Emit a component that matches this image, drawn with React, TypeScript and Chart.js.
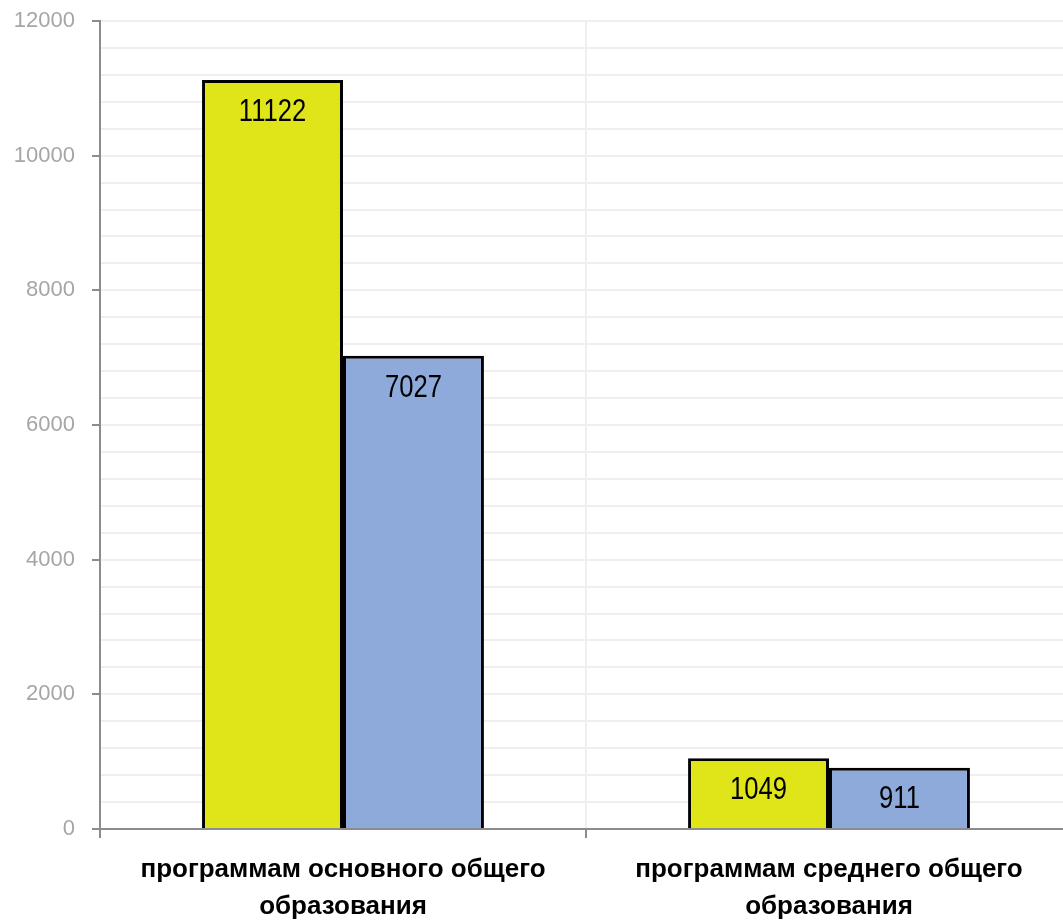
import React, { useEffect, useRef } from "react";
import { Chart, registerables } from "chart.js";

Chart.register(...registerables);

const categories: string[][] = [
  ["программам основного общего", "образования"],
  ["программам среднего общего", "образования"],
];
const seriesA: number[] = [11122, 1049];
const seriesB: number[] = [7027, 911];
const yMax = 12000;
const yMajorStep = 2000;
const yMinorStep = 400;

const SANS = '"Liberation Sans", Arial, sans-serif';

const valueLabels = {
  id: "valueLabels",
  afterDatasetsDraw(chart: any) {
    const ctx = chart.ctx;
    chart.data.datasets.forEach((ds: any, i: number) => {
      const meta = chart.getDatasetMeta(i);
      meta.data.forEach((el: any, j: number) => {
        ctx.save();
        ctx.font = `32px ${SANS}`;
        ctx.fillStyle = "#000";
        ctx.textAlign = "center";
        ctx.textBaseline = "middle";
        ctx.translate(el.x, el.y + 32);
        ctx.scale(0.8, 1);
        ctx.fillText(String(ds.data[j]), 0, 0);
        ctx.restore();
      });
    });
  },
};

export default function App() {
  const ref = useRef<HTMLCanvasElement | null>(null);
  useEffect(() => {
    if (!ref.current) return;
    const chart = new Chart(ref.current, {
      type: "bar",
      data: {
        labels: categories,
        datasets: [
          {
            data: seriesA,
            backgroundColor: "#e0e51a",
            borderColor: "#000",
            borderWidth: 3,
            borderSkipped: "bottom",
            categoryPercentage: 0.58,
            barPercentage: 1,
          },
          {
            data: seriesB,
            backgroundColor: "#8eaadb",
            borderColor: "#000",
            borderWidth: 3,
            borderSkipped: "bottom",
            categoryPercentage: 0.58,
            barPercentage: 1,
          },
        ],
      },
      options: {
        animation: false,
        responsive: false,
        maintainAspectRatio: false,
        layout: { padding: { top: 21, right: 3, left: 0, bottom: 0 } },
        plugins: {
          legend: { display: false },
          title: { display: false },
          tooltip: { enabled: false },
        },
        scales: {
          x: {
            grid: {
              offset: true,
              color: "#efefef",
              lineWidth: 2,
              tickColor: "#8c8c8c",
              tickLength: 9,
              drawTicks: true,
            },
            border: { display: true, color: "#8c8c8c", width: 2 },
            ticks: {
              color: "#000",
              font: { family: SANS, size: 26, weight: "bold", lineHeight: 1.4 },
              padding: 14,
              maxRotation: 0,
              autoSkip: false,
            },
            afterFit: (s: any) => {
              s.height = 92;
              s.paddingLeft = 0;
              s.paddingRight = 0;
            },
          },
          y: {
            min: 0,
            max: yMax,
            grid: {
              color: "#efefef",
              lineWidth: 2,
              tickLength: 8,
              tickColor: (c: any) =>
                c.tick && c.tick.value % yMajorStep === 0 ? "#8c8c8c" : "rgba(0,0,0,0)",
            },
            border: { display: true, color: "#8c8c8c", width: 2 },
            ticks: {
              stepSize: yMinorStep,
              autoSkip: false,
              color: "#a6a6a6",
              padding: 17,
              font: { family: SANS, size: 22 },
              callback: (v: any) => (Number(v) % yMajorStep === 0 ? String(v) : ""),
            },
            afterFit: (s: any) => {
              s.width = 100;
              s.paddingTop = 0;
              s.paddingBottom = 0;
            },
          },
        },
      },
      plugins: [valueLabels],
    });
    return () => chart.destroy();
  }, []);
  return (
    <div style={{ position: "fixed", left: 0, top: 0, width: 1075, height: 921, background: "#fff" }}>
      <canvas ref={ref} width={1075} height={921} style={{ width: 1075, height: 921 }} />
    </div>
  );
}
